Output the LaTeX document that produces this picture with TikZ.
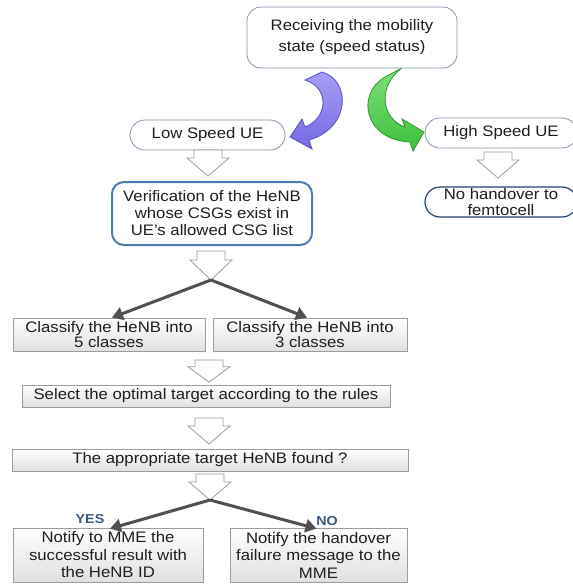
\documentclass[tikz,border=0pt]{standalone}
\usepackage{fontspec}
\setmainfont{Liberation Sans}[FakeStretch=1.1]
\usetikzlibrary{arrows.meta,calc}
\definecolor{txt}{HTML}{1E1E1E}
\definecolor{pillline}{HTML}{8494AC}
\definecolor{darkblue}{HTML}{25446F}
\definecolor{steel}{HTML}{4F7DB3}
\definecolor{boxline}{HTML}{9C9C9C}
\definecolor{boxbottom}{HTML}{E0E0E0}
\definecolor{conn}{HTML}{505050}
\definecolor{lblcol}{HTML}{3B5A7D}
\definecolor{purpL}{HTML}{A69EF6}
\definecolor{purpD}{HTML}{7468E2}
\definecolor{purpE}{HTML}{5C50C4}
\definecolor{greenL}{HTML}{7EE07A}
\definecolor{greenD}{HTML}{3CC03C}
\definecolor{greenE}{HTML}{2E9A2E}
\begin{document}
\begin{tikzpicture}[x=1pt,y=-1pt,
  basefont/.style={font=\fontsize{15.2}{#1}\selectfont},
  rbox/.style={draw=pillline, line width=0.8pt, fill=white, rounded corners=14pt, align=center, text=txt, inner sep=0pt},
  pill/.style={draw=pillline, line width=0.8pt, fill=white, rounded corners=15pt, align=center, text=txt, inner sep=0pt},
  darkpill/.style={draw=darkblue, line width=1.2pt, fill=white, rounded corners=15pt, align=center, text=txt, inner sep=0pt},
  verbox/.style={draw=steel, line width=2pt, fill=white, rounded corners=12pt, align=center, text=txt, inner sep=0pt},
  gbox/.style={draw=boxline, line width=0.8pt, top color=white, bottom color=boxbottom, align=center, text=txt, inner sep=0pt},
  hstyle/.style={fill=white, draw=boxline, line width=0.8pt, line join=miter},
  darrow/.style={draw=conn, line width=3pt, -{Triangle[length=11pt,width=13pt]}},
  lbl/.style={text=lblcol, font=\fontsize{13}{15}\selectfont\bfseries, inner sep=0pt},
  blockarrow/.pic={\draw[hstyle] (-14,0) -- (14,0) -- (14,8) -- (21,8) -- (0,26) -- (-21,8) -- (-14,8) -- cycle;}
]
\useasboundingbox (0,0) rectangle (573,584);
\clip (0,0) rectangle (573,584);
\fill[white] (0,0) rectangle (573,584);

% curved arrows
\draw[line width=0.8pt, draw=purpE, shading=axis, top color=purpL, bottom color=purpD]
  (322,72) .. controls (351,80) and (351,128) .. (309,140) -- (312,149) -- (290,137)
  -- (302,119) -- (305,127) .. controls (328,118) and (330,88) .. (305,80) -- cycle;
\draw[line width=0.8pt, draw=greenE, shading=axis, top color=greenL, bottom color=greenD]
  (402,68) .. controls (378,85) and (380,118) .. (405,127) -- (402,119) -- (424,132)
  -- (413,151) -- (410,142) .. controls (365,140) and (355,95) .. (385,77) -- cycle;

% nodes
\node[rbox, basefont=21, minimum width=210pt, minimum height=61pt] (top) at (352,37.5) {Receiving the mobility\\state (speed status)};
\node[pill, basefont=18, minimum width=155pt, minimum height=30pt] (low) at (207.5,135) {Low Speed UE};
\node[pill, basefont=18, minimum width=152pt, minimum height=30pt] (high) at (501,133) {High Speed UE};
\node[darkpill, basefont=16, minimum width=152pt, minimum height=30pt] (noho) at (501,202) {No handover to\\femtocell};
\node[verbox, basefont=17, minimum width=200pt, minimum height=63pt] (ver) at (212,213.5) {Verification of the HeNB\\whose CSGs exist in\\UE's allowed CSG list};
\node[gbox, basefont=15, minimum width=192pt, minimum height=33pt] (cl5) at (109,334.5) {Classify the HeNB into\\5 classes};
\node[gbox, basefont=15, minimum width=194pt, minimum height=33pt] (cl3) at (310,334.5) {Classify the HeNB into\\3 classes};
\node[gbox, basefont=18, minimum width=368pt, minimum height=22pt] (sel) at (206,396) {Select the optimal target according to the rules};
\node[gbox, basefont=18, minimum width=396pt, minimum height=22pt] (app) at (210,460) {The appropriate target HeNB found ?};
\node[gbox, basefont=17.5, minimum width=190pt, minimum height=54pt] (yes) at (108,555) {Notify to MME the\\successful result with\\the HeNB ID};
\node[gbox, basefont=17.5, minimum width=177pt, minimum height=54pt] (no) at (318.5,555) {Notify the handover\\failure message to the\\MME};

% hollow block arrows
\pic at (208,150) {blockarrow};
\pic at (498,152) {blockarrow};
\pic[yscale=1.12] at (211,251) {blockarrow};
\pic[yscale=0.85] at (209,360) {blockarrow};
\pic at (209,418) {blockarrow};
\pic at (210,474) {blockarrow};

\coordinate (j1) at (211,280);
\coordinate (j2) at (210,500);

% dark connectors
\draw[darrow] (j1) -- ($(cl5.north)+(3,0)$);
\draw[darrow] (j1) -- ($(cl3.north)+(-3,0)$);
\draw[darrow] (j2) -- ($(yes.north)+(2,1)$);
\draw[darrow] (j2) -- ($(no.north)+(-2,1)$);

\node[lbl] (yeslbl) at (90,519) {YES};
\node[lbl] (nolbl) at (327,521) {NO};
\end{tikzpicture}
\end{document}
